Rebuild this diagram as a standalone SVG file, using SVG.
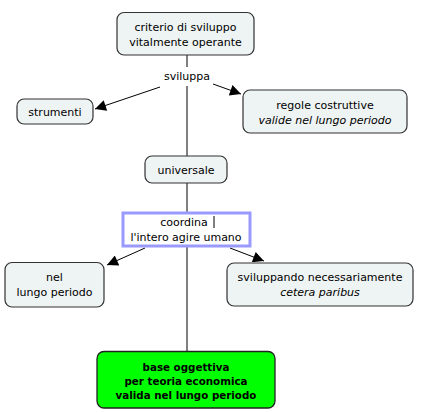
<svg xmlns="http://www.w3.org/2000/svg" width="428" height="413" viewBox="0 0 428 413">
<defs>
<marker id="ah" viewBox="0 0 10 10" refX="10" refY="5" markerWidth="15" markerHeight="11" markerUnits="userSpaceOnUse" orient="auto">
<path d="M0,0 L10,5 L0,10 z" fill="#000"/>
</marker>
<style>
.n{fill:#eef3f3;stroke:#333;stroke-width:1.2}
.t{font-family:"DejaVu Sans",Verdana,sans-serif;font-size:11px;fill:#000;text-anchor:middle}
.i{font-style:italic}
.b{font-weight:bold;font-size:10.3px}
.c{stroke:#000;stroke-width:1;fill:none}
</style>
</defs>
<rect width="428" height="413" fill="#fff"/>
<g id="connectors">
<line class="c" x1="187" y1="55" x2="187" y2="67"/>
<line class="c" x1="187" y1="86" x2="187" y2="156"/>
<line class="c" x1="160" y1="87" x2="95" y2="109" marker-end="url(#ah)"/>
<line class="c" x1="213" y1="84" x2="241" y2="94" marker-end="url(#ah)"/>
<line class="c" x1="187" y1="183" x2="187" y2="212"/>
<line class="c" x1="187" y1="247" x2="187" y2="351"/>
<line class="c" x1="145" y1="248" x2="107" y2="265" marker-end="url(#ah)"/>
<line class="c" x1="230" y1="248" x2="264" y2="261" marker-end="url(#ah)"/>
</g>
<g id="criterio">
<rect class="n" x="117" y="12.5" width="137" height="42.5" rx="7"/>
<text class="t" x="185.5" y="30.5">criterio di sviluppo</text>
<text class="t" x="185.5" y="45.5">vitalmente operante</text>
</g>
<g id="sviluppa">
<text class="t" x="187" y="80">sviluppa</text>
</g>
<g id="strumenti">
<rect class="n" x="17" y="99" width="76" height="25" rx="7"/>
<text class="t" x="55" y="115.5">strumenti</text>
</g>
<g id="regole">
<rect class="n" x="243" y="90" width="164" height="43" rx="7"/>
<text class="t" x="325" y="108.5">regole costruttive</text>
<text class="t i" x="325" y="123.5">valide nel lungo periodo</text>
</g>
<g id="universale">
<rect class="n" x="145" y="156" width="82" height="27" rx="7"/>
<text class="t" x="186" y="173.5">universale</text>
</g>
<g id="coordina">
<rect x="123" y="213" width="127" height="33" fill="#fff" stroke="#9999ff" stroke-width="3"/>
<text class="t" x="184" y="226">coordina</text>
<line x1="214" y1="216" x2="214" y2="228" stroke="#000" stroke-width="1"/>
<text class="t" x="186" y="241">l'intero agire umano</text>
</g>
<g id="nel">
<rect class="n" x="5" y="262.5" width="99" height="44.5" rx="7"/>
<text class="t" x="54.5" y="281">nel</text>
<text class="t" x="54.5" y="296">lungo periodo</text>
</g>
<g id="sviluppando">
<rect class="n" x="227" y="263" width="186" height="43" rx="7"/>
<text class="t" x="320" y="281">sviluppando necessariamente</text>
<text class="t i" x="320" y="296">cetera paribus</text>
</g>
<g id="base">
<rect x="97" y="351.5" width="178" height="56.5" rx="7" fill="#00ff00" stroke="#222" stroke-width="1.3"/>
<text class="t b" x="186" y="371">base oggettiva</text>
<text class="t b" x="186" y="385">per teoria economica</text>
<text class="t b" x="186" y="399">valida nel lungo periodo</text>
</g>
</svg>
